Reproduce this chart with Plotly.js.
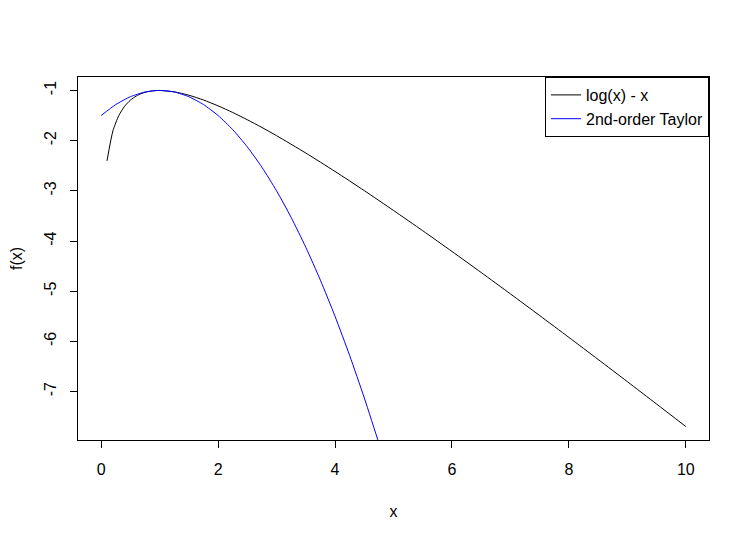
<!DOCTYPE html>
<html>
<head>
<meta charset="utf-8">
<script src="https://cdn.plot.ly/plotly-3.0.1.min.js"></script>
<style>html,body{margin:0;padding:0;background:#fff;}</style>
</head>
<body>
<div id="chart" style="width:748px;height:539px;"></div>
<script>
// log(x) - x
const xLog = [0.1,0.2,0.3,0.4,0.5,0.6,0.7,0.8,0.9,1.0,1.25,1.5,1.75,2.0,2.25,2.5,2.75,3.0,3.5,4.0,4.5,5.0,5.5,6.0,6.5,7.0,7.5,8.0,8.5,9.0,9.5,10.0];
const yLog = [-2.403,-1.809,-1.504,-1.316,-1.193,-1.111,-1.057,-1.023,-1.005,-1.000,-1.027,-1.095,-1.190,-1.307,-1.439,-1.584,-1.738,-1.901,-2.247,-2.614,-2.996,-3.391,-3.795,-4.208,-4.628,-5.054,-5.485,-5.921,-6.360,-6.803,-7.249,-7.697];
// 2nd-order Taylor
const xTay = [0,0.25,0.5,0.75,1.0,1.25,1.5,1.75,2.0,2.25,2.5,2.75,3.0,3.25,3.5,3.75,4.0,4.25,4.5,4.75,5.0];
const yTay = [-1.5,-1.281,-1.125,-1.031,-1.0,-1.031,-1.125,-1.281,-1.5,-1.781,-2.125,-2.531,-3.0,-3.531,-4.125,-4.781,-5.5,-6.281,-7.125,-8.031,-9.0];
const seriesNames = ["log(x) - x", "2nd-order Taylor"];
const xTicks = [0,2,4,6,8,10];
const yTicks = [-1,-2,-3,-4,-5,-6,-7];

const font = {family: "Liberation Sans, Arial, sans-serif", size: 16, color: "#000"};
const traces = [
  {x: xLog, y: yLog, type: "scatter", mode: "lines", name: seriesNames[0], line: {color: "#000", width: 1, shape: "spline", smoothing: 0.6}},
  {x: xTay, y: yTay, type: "scatter", mode: "lines", name: seriesNames[1], line: {color: "#0000ff", width: 1, shape: "spline", smoothing: 0.6}}
];
const axisCommon = {showgrid: false, zeroline: false, showline: true, mirror: true, linecolor: "#000", linewidth: 1,
  ticks: "outside", ticklen: 7, tickcolor: "#000", tickwidth: 1, tickfont: font, ticklabelstandoff: 8};
const layout = {
  width: 748, height: 539,
  margin: {l: 78, r: 39, t: 77, b: 99},
  paper_bgcolor: "#fff", plot_bgcolor: "#fff",
  font: font,
  xaxis: Object.assign({}, axisCommon, {range: [-0.396, 10.396], tickvals: xTicks, ticktext: xTicks.map(String),
    title: {text: "x", font: font, standoff: 28}}),
  yaxis: Object.assign({}, axisCommon, {range: [-7.965, -0.732], tickvals: yTicks, ticktext: yTicks.map(String), tickangle: -90,
    title: {text: "f(x)", font: font, standoff: 14}}),
  showlegend: true,
  legend: {x: 1, y: 1, xanchor: "right", yanchor: "top", bordercolor: "#000", borderwidth: 1, bgcolor: "#fff",
    font: font, itemwidth: 30, tracegroupgap: 0}
};
Plotly.newPlot("chart", traces, layout, {displayModeBar: false, staticPlot: true});
</script>
</body>
</html>
